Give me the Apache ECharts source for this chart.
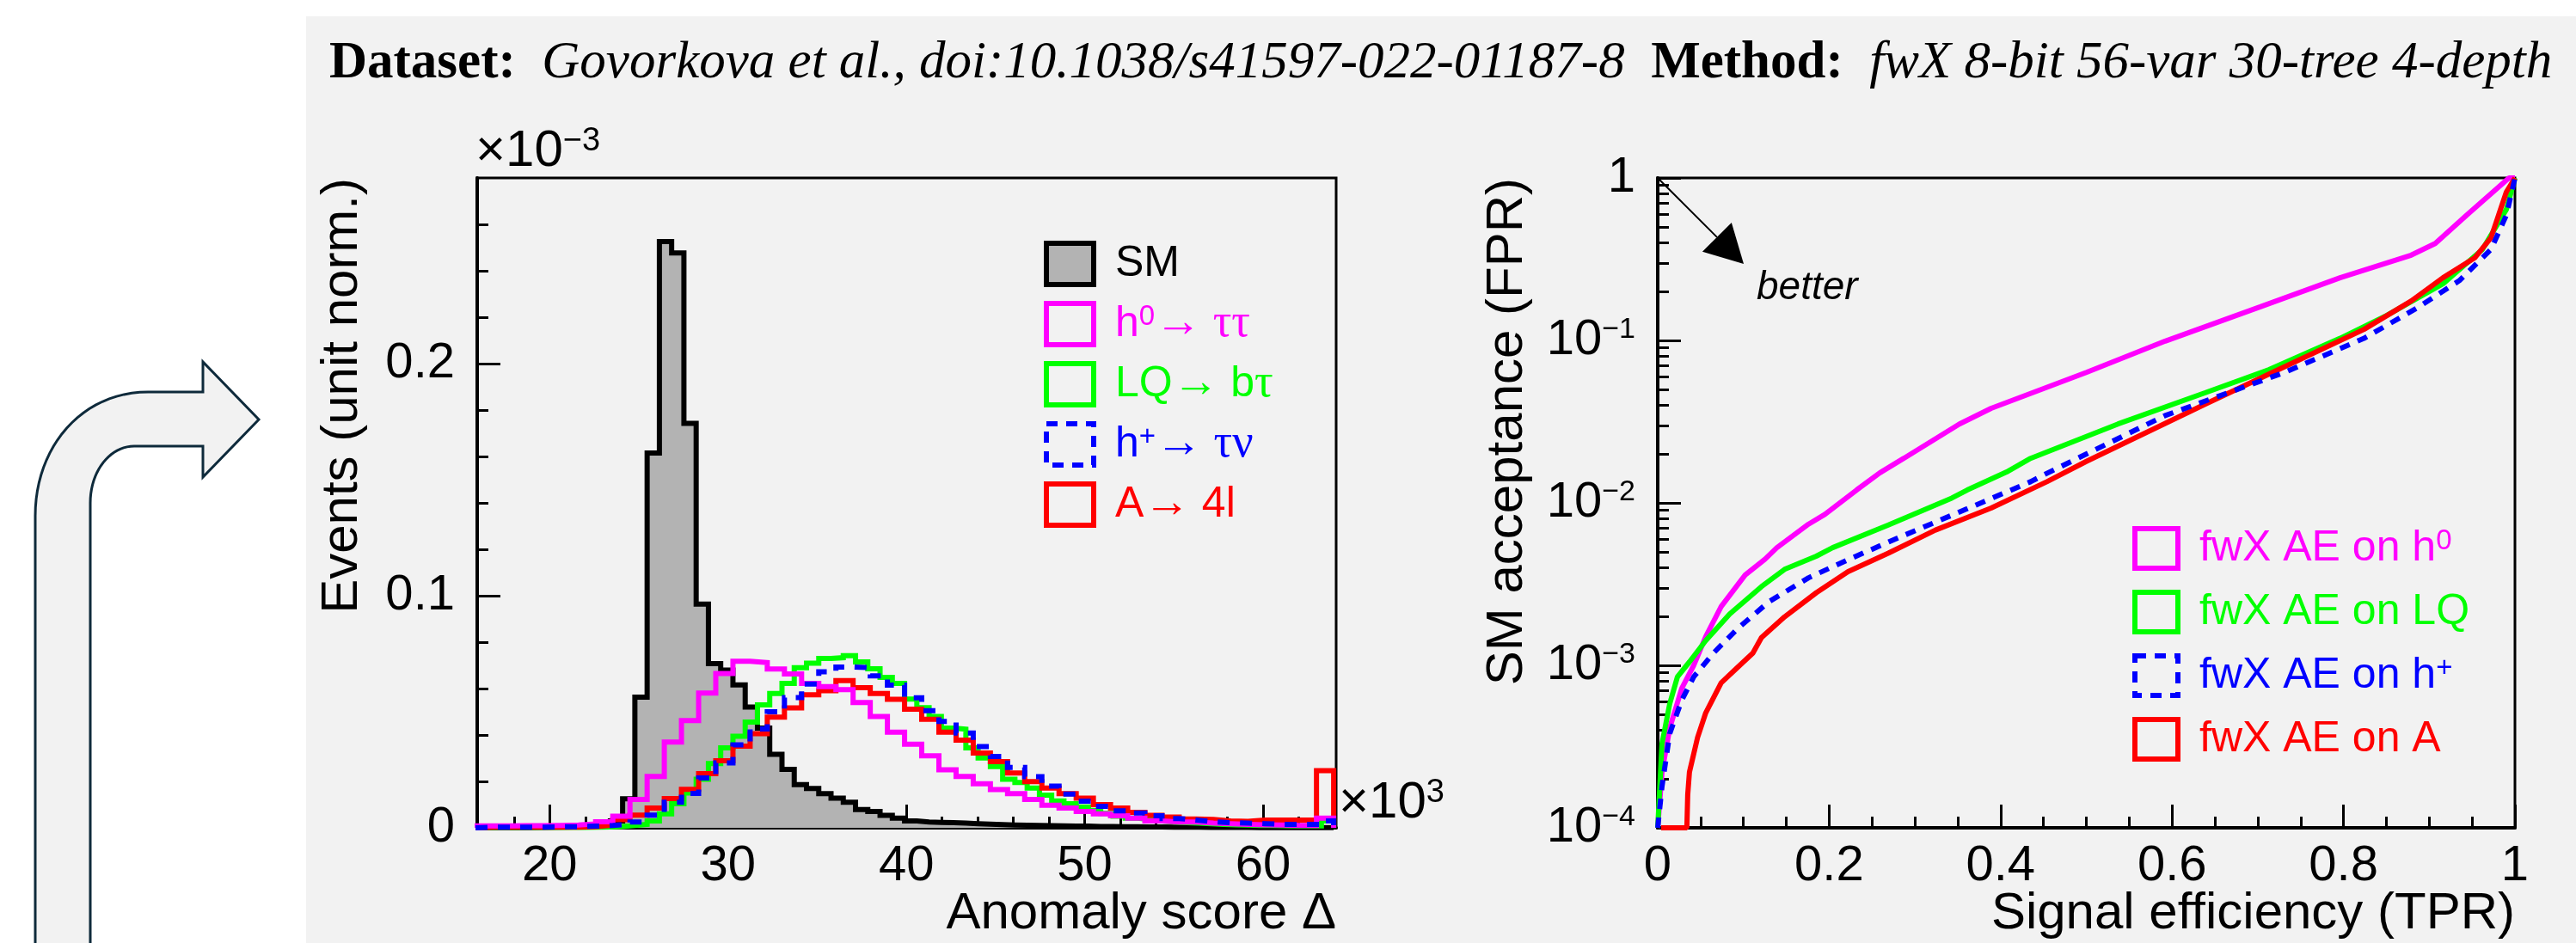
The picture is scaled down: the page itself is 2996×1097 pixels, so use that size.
<!DOCTYPE html>
<html><head><meta charset="utf-8">
<script src="https://cdn.jsdelivr.net/npm/echarts@6/dist/echarts.min.js"></script>
<style>html,body{margin:0;padding:0;background:#fff;}#c{width:2996px;height:1097px;}</style>
</head><body><div id="c"></div>
<script>
// ================= DATA =================
// Histogram range (x10^3) shared by all histograms
const histLo = 15.84, histHi = 63.96;
// SM and LQ: 70 bins
const smVals = [0,0,0,0,0.0001,0.0002,0.0003,0.0004,0.0005,0.0008,
  0.0015,0.003,0.0125,0.0563,0.1615,0.2526,0.2477,0.1743,0.0964,0.0707,
  0.068,0.0616,0.052,0.043,0.0317,0.0252,0.0186,0.0169,0.0147,0.0128,
  0.011,0.0079,0.007,0.0054,0.0042,0.003,0.0025,0.0023,0.0022,0.002,
  0.0018,0.0016,0.0014,0.0012,0.0011,0.001,0.0009,0.0008,0.0007,0.0007,
  0.0006,0.0006,0.0005,0.0005,0.0004,0.0004,0.0003,0.0003,0.0003,0.0002,
  0.0002,0.0002,0.0002,0.0001,0.0001,0.0001,0.0001,0.0001,0.0001,0.0001];
const lqVals = [0.0002,0.0002,0.0002,0.0002,0.0002,0.0002,0.0002,0.0002,0.0002,0.0003,
  0.0004,0.0006,0.001,0.0015,0.003,0.006,0.0104,0.015,0.0209,0.0277,
  0.0344,0.0394,0.0456,0.053,0.0579,0.0622,0.069,0.0709,0.073,0.0733,
  0.0742,0.0715,0.0685,0.0648,0.0622,0.0555,0.0518,0.048,0.043,0.0425,
  0.0344,0.0301,0.0264,0.0209,0.0195,0.0171,0.0141,0.0116,0.0104,0.009,
  0.0075,0.0062,0.005,0.0042,0.0036,0.003,0.0025,0.0022,0.002,0.0018,
  0.0015,0.0013,0.0012,0.001,0.001,0.0009,0.0008,0.0008,0.0008,0.003];
// h0, h+, A: 50 bins
const h0Vals = [0.0008,0.0008,0.0009,0.0009,0.001,0.0012,0.0017,0.0026,0.005,0.0122,
  0.0221,0.0369,0.0462,0.0581,0.0665,0.0718,0.0712,0.0684,0.0663,0.0622,
  0.0608,0.0595,0.054,0.048,0.0412,0.036,0.031,0.025,0.0221,0.019,
  0.0165,0.0147,0.0122,0.0097,0.0085,0.007,0.006,0.0052,0.0042,0.003,
  0.0025,0.0025,0.002,0.0018,0.0015,0.0013,0.0012,0.001,0.001,0.0042];
const hpVals = [0.0003,0.0003,0.0003,0.0003,0.0004,0.0005,0.0007,0.001,0.0015,0.0025,
  0.0055,0.011,0.0148,0.0215,0.028,0.0357,0.0426,0.05,0.0561,0.0619,
  0.0672,0.0693,0.069,0.0655,0.0615,0.056,0.0505,0.0458,0.0408,0.035,
  0.0307,0.026,0.022,0.018,0.0145,0.0115,0.0093,0.0073,0.0064,0.0052,
  0.004,0.0033,0.0026,0.0022,0.002,0.0018,0.0015,0.0015,0.0015,0.003];
const a4lVals = [0.0003,0.0003,0.0003,0.0003,0.0003,0.0003,0.0005,0.0012,0.0035,0.0055,
  0.0085,0.0126,0.0166,0.0233,0.0289,0.0352,0.0406,0.0477,0.0517,0.0573,
  0.0591,0.0634,0.0604,0.0579,0.0554,0.0511,0.0468,0.0412,0.0378,0.0322,
  0.0285,0.0236,0.0199,0.0171,0.0147,0.0128,0.01,0.0085,0.0067,0.0054,
  0.0046,0.0038,0.0036,0.003,0.0028,0.0033,0.0033,0.0033,0.0033,0.0246];

// ROC curves: [signal efficiency (TPR), SM acceptance (FPR)]
const rocH0 = [[0,1e-4],[0.005,2.2e-4],[0.014,4.1e-4],[0.028,7.2e-4],[0.042,1.0e-3],[0.056,1.5e-3],
  [0.074,2.3e-3],[0.102,3.6e-3],[0.125,4.5e-3],[0.139,5.3e-3],[0.176,7.4e-3],[0.195,8.5e-3],
  [0.232,0.012],[0.259,0.0153],[0.287,0.0188],[0.352,0.0306],[0.389,0.0382],[0.5,0.0635],
  [0.592,0.099],[0.703,0.161],[0.796,0.243],[0.879,0.335],[0.907,0.395],[0.944,0.592],[0.993,1.0],[1,1]];
const rocLQ = [[0,1e-4],[0.005,3.3e-4],[0.014,5.8e-4],[0.023,8.5e-4],[0.037,1.05e-3],[0.056,1.42e-3],
  [0.084,2.07e-3],[0.121,3.05e-3],[0.148,3.9e-3],[0.185,4.7e-3],[0.204,5.3e-3],[0.269,7.3e-3],
  [0.343,0.0107],[0.361,0.012],[0.407,0.0155],[0.435,0.0188],[0.537,0.0306],[0.639,0.0477],
  [0.713,0.066],[0.796,0.103],[0.851,0.143],[0.916,0.223],[0.962,0.363],[0.99,0.64],[1,1]];
const rocHp = [[0,1e-4],[0.005,1.8e-4],[0.014,3.8e-4],[0.028,6.1e-4],[0.042,8.5e-4],[0.065,1.19e-3],
  [0.093,1.68e-3],[0.13,2.47e-3],[0.176,3.46e-3],[0.222,4.47e-3],[0.287,6.3e-3],[0.361,9.2e-3],
  [0.435,0.0135],[0.454,0.0152],[0.592,0.0345],[0.731,0.0635],[0.824,0.103],[0.888,0.161],
  [0.935,0.233],[0.972,0.363],[0.99,0.59],[1,1]];
const rocA = [[0.004,1e-4],[0.034,1e-4],[0.035,1.6e-4],[0.037,2.2e-4],[0.0465,3.6e-4],[0.056,5.1e-4],
  [0.074,7.8e-4],[0.093,9.7e-4],[0.111,1.19e-3],[0.121,1.48e-3],[0.148,1.99e-3],[0.185,2.8e-3],
  [0.222,3.77e-3],[0.269,4.9e-3],[0.324,6.8e-3],[0.389,9.3e-3],[0.454,0.0135],[0.5,0.018],
  [0.639,0.0406],[0.731,0.0688],[0.824,0.117],[0.879,0.175],[0.916,0.243],[0.953,0.322],
  [0.972,0.428],[0.981,0.592],[0.99,0.82],[1,1]];

// Tick values
const xMajorL = [20,30,40,50,60];
const xMinorL = [18,22,24,26,28,32,34,36,38,42,44,46,48,52,54,56,58,62];
const yMajorL = [0,0.1,0.2];
const yMinorL = [0.02,0.04,0.06,0.08,0.12,0.14,0.16,0.18,0.22,0.24,0.26];
const xMajorR = [0,0.2,0.4,0.6,0.8,1];
const xMinorR = [0.05,0.1,0.15,0.25,0.3,0.35,0.45,0.5,0.55,0.65,0.7,0.75,0.85,0.9,0.95];
const yMajorR = [1e-4,1e-3,1e-2,1e-1,1];
const yMinorR = [2e-4,3e-4,4e-4,5e-4,6e-4,7e-4,8e-4,9e-4,2e-3,3e-3,4e-3,5e-3,6e-3,7e-3,8e-3,9e-3,
  2e-2,3e-2,4e-2,5e-2,6e-2,7e-2,8e-2,9e-2,0.2,0.3,0.4,0.5,0.6,0.7,0.8,0.9];

// Text
const headerText = '{b|Dataset:  }{i|Govorkova et al., doi:10.1038/s41597-022-01187-8  }{b|Method:  }{i|fwX 8-bit 56-var 30-tree 4-depth}';
const histNames = ['SM','h0→ττ','LQ→bτ','h+→τν','A→4l'];
const rocNames = ['fwX AE on h0','fwX AE on LQ','fwX AE on h+','fwX AE on A'];

// ================= STYLE =================
const SANS = '"Liberation Sans", Arial, Helvetica, sans-serif';
const SERIF = '"Liberation Serif", "Times New Roman", serif';
const MAG = '#ff00ff', GRN = '#00ff00', BLU = '#0000ff', RED = '#ff0000', BLK = '#000000';
const PANEL = '#f2f2f2', SMFILL = '#b3b3b3';

function stepData(vals, lo, hi) {
  const w = (hi - lo) / vals.length;
  const pts = [[lo, 0]];
  vals.forEach((v, i) => pts.push([lo + i * w, v]));
  pts.push([hi, vals[vals.length - 1]]);
  pts.push([hi, 0]);
  return pts;
}

function richSet(p, color, base, sup, supLH) {
  const r = {};
  r[p + 'b'] = {fontFamily: SANS, fontSize: base, lineHeight: base, color: color};
  r[p + 's'] = {fontFamily: SANS, fontSize: sup, lineHeight: supLH, verticalAlign: 'top', color: color};
  r[p + 'g'] = {fontFamily: SERIF, fontSize: base + 4, lineHeight: base, color: color};
  return r;
}
const legRich = Object.assign({sp: {width: 20}},
  richSet('k', BLK, 50, 33, 4), richSet('m', MAG, 50, 33, 4), richSet('g', GRN, 50, 33, 4),
  richSet('u', BLU, 50, 33, 4), richSet('r', RED, 50, 33, 4));
const legFmt = {
  'SM': '{sp| }{kb|SM}',
  'h0→ττ': '{sp| }{mb|h}{ms|0}{mg|→ ττ}',
  'LQ→bτ': '{sp| }{gb|LQ}{gg|→ }{gb|b}{gg|τ}',
  'h+→τν': '{sp| }{ub|h}{us|+}{ug|→ τν}',
  'A→4l': '{sp| }{rb|A}{rg|→ }{rb|4l}',
  'fwX AE on h0': '{sp| }{mb|fwX AE on h}{ms|0}',
  'fwX AE on LQ': '{sp| }{gb|fwX AE on LQ}',
  'fwX AE on h+': '{sp| }{ub|fwX AE on h}{us|+}',
  'fwX AE on A': '{sp| }{rb|fwX AE on A}'
};
const tickRich = {
  b: {fontFamily: SANS, fontSize: 58, lineHeight: 58, color: BLK},
  s: {fontFamily: SANS, fontSize: 34, lineHeight: 10, verticalAlign: 'top', color: BLK}
};

function hollow(c, dashed) {
  return {color: PANEL, borderColor: c, borderWidth: 6, borderType: dashed ? [13, 10] : 'solid'};
}

function axisMajor(grid, type, pos, min, max, vals, fmt, isY) {
  const a = {
    gridIndex: grid, type: type, position: pos, min: min, max: max,
    axisLine: {show: true, onZero: false, lineStyle: {color: BLK, width: 4}},
    axisTick: {show: true, inside: true, length: 27, lineStyle: {color: BLK, width: 3}, customValues: vals},
    axisLabel: {show: true, customValues: vals, fontFamily: SANS, fontSize: 58, color: BLK,
      margin: isY ? 26 : 16, showMinLabel: true, showMaxLabel: true, hideOverlap: false,
      formatter: fmt, rich: tickRich},
    splitLine: {show: false}, splitArea: {show: false}
  };
  if (type === 'log') a.logBase = 10;
  return a;
}
function axisMinor(grid, type, pos, min, max, vals) {
  const a = {
    gridIndex: grid, type: type, position: pos, min: min, max: max,
    axisLine: {show: false},
    axisTick: {show: true, inside: true, length: 13, lineStyle: {color: BLK, width: 3}, customValues: vals},
    axisLabel: {show: false}, splitLine: {show: false}
  };
  if (type === 'log') a.logBase = 10;
  return a;
}

const xMinL = 15.935, xMaxL = 64.1;
const fmtPlain = v => String(v);
const fmtLog = v => {
  const e = Math.round(Math.log10(v));
  return e === 0 ? '{b|1}' : '{b|10}{s|\u2212' + (-e) + '}';
};

// decorative curved arrow outline (sampled cubic Bezier curves)
function bez(p0, p1, p2, p3, n) {
  const out = [];
  for (let i = 1; i <= n; i++) {
    const t = i / n, u = 1 - t;
    out.push([u*u*u*p0[0] + 3*u*u*t*p1[0] + 3*u*t*t*p2[0] + t*t*t*p3[0],
              u*u*u*p0[1] + 3*u*u*t*p1[1] + 3*u*t*t*p2[1] + t*t*t*p3[1]]);
  }
  return out;
}
const arrowPts = [[41, 1100], [41, 600]]
  .concat(bez([41, 600], [41, 520], [95, 456], [172, 456], 24))
  .concat([[236, 456], [236, 421], [301, 488], [236, 555], [236, 519], [156, 519]])
  .concat(bez([156, 519], [128, 519], [105, 548], [105, 585], 20))
  .concat([[105, 1100]]);

const chart = echarts.init(document.getElementById('c'), null, {renderer: 'canvas', width: 2996, height: 1097});

const baseGraphic = [
  {type: 'rect', z: -100, shape: {x: 356, y: 19, width: 2640, height: 1078}, style: {fill: PANEL}, silent: true},
  {type: 'polygon', z: -50, silent: true, shape: {points: arrowPts},
    style: {fill: PANEL, stroke: '#0e2a3b', lineWidth: 3}},
  {type: 'text', x: 383, y: 74, silent: true,
    style: {text: headerText, verticalAlign: 'middle', align: 'left',
      rich: {b: {fontFamily: SERIF, fontWeight: 'bold', fontSize: 61, fill: BLK},
             i: {fontFamily: SERIF, fontStyle: 'italic', fontSize: 61, fill: BLK}}}},
  {type: 'text', x: 553, y: 176, silent: true,
    style: {text: '{b|\u00d710}{s|\u22123}', verticalAlign: 'middle', align: 'left',
      rich: {b: {fontFamily: SANS, fontSize: 60, lineHeight: 60, fill: BLK}, s: {fontFamily: SANS, fontSize: 38, lineHeight: 14, verticalAlign: 'top', fill: BLK}}}},
  {type: 'text', x: 1557, y: 934, silent: true,
    style: {text: '{b|\u00d710}{s|3}', verticalAlign: 'middle', align: 'left',
      rich: {b: {fontFamily: SANS, fontSize: 60, lineHeight: 60, fill: BLK}, s: {fontFamily: SANS, fontSize: 38, lineHeight: 14, verticalAlign: 'top', fill: BLK}}}},
  {type: 'text', x: 398, y: 207, rotation: Math.PI / 2, silent: true,
    style: {text: 'Events (unit norm.)', fontFamily: SANS, fontSize: 60, fill: BLK, align: 'right', verticalAlign: 'middle'}},
  {type: 'text', x: 1753, y: 207, rotation: Math.PI / 2, silent: true,
    style: {text: 'SM acceptance (FPR)', fontFamily: SANS, fontSize: 60, fill: BLK, align: 'right', verticalAlign: 'middle'}},
  {type: 'text', x: 1554, y: 1063, silent: true,
    style: {text: 'Anomaly score \u0394', fontFamily: SANS, fontSize: 60, fill: BLK, align: 'right', verticalAlign: 'middle'}},
  {type: 'text', x: 2925, y: 1063, silent: true,
    style: {text: 'Signal efficiency (TPR)', fontFamily: SANS, fontSize: 60, fill: BLK, align: 'right', verticalAlign: 'middle'}}
];

const option = {
  animation: false,
  backgroundColor: '#ffffff',
  textStyle: {fontFamily: SANS},
  grid: [
    {left: 555, top: 207, width: 999, height: 756, show: true, backgroundColor: 'transparent', borderColor: BLK, borderWidth: 3},
    {left: 1928, top: 207, width: 997, height: 756, show: true, backgroundColor: 'transparent', borderColor: BLK, borderWidth: 3}
  ],
  xAxis: [
    axisMajor(0, 'value', 'bottom', xMinL, xMaxL, xMajorL, fmtPlain, false),
    axisMinor(0, 'value', 'bottom', xMinL, xMaxL, xMinorL),
    axisMajor(1, 'value', 'bottom', 0, 1, xMajorR, fmtPlain, false),
    axisMinor(1, 'value', 'bottom', 0, 1, xMinorR)
  ],
  yAxis: [
    axisMajor(0, 'value', 'left', 0, 0.28, yMajorL, fmtPlain, true),
    axisMinor(0, 'value', 'left', 0, 0.28, yMinorL),
    axisMajor(1, 'log', 'left', 1e-4, 1, yMajorR, fmtLog, true),
    axisMinor(1, 'log', 'left', 1e-4, 1, yMinorR)
  ],
  legend: [
    {show: true, orient: 'vertical', left: 1209, top: 275, itemWidth: 55, itemHeight: 48, itemGap: 16,
      selectedMode: false, icon: 'rect',
      formatter: n => legFmt[n], textStyle: {rich: legRich},
      data: [
        {name: histNames[0], icon: 'rect', itemStyle: {color: SMFILL, borderColor: BLK, borderWidth: 6}},
        {name: histNames[1], icon: 'rect', itemStyle: hollow(MAG)},
        {name: histNames[2], icon: 'rect', itemStyle: hollow(GRN)},
        {name: histNames[3], icon: 'rect', itemStyle: hollow(BLU, true)},
        {name: histNames[4], icon: 'rect', itemStyle: hollow(RED)}
      ]},
    {show: true, orient: 'vertical', left: 2475, top: 607, itemWidth: 50, itemHeight: 46, itemGap: 22,
      selectedMode: false, icon: 'rect',
      formatter: n => legFmt[n], textStyle: {rich: legRich},
      data: [
        {name: rocNames[0], icon: 'rect', itemStyle: hollow(MAG)},
        {name: rocNames[1], icon: 'rect', itemStyle: hollow(GRN)},
        {name: rocNames[2], icon: 'rect', itemStyle: hollow(BLU, true)},
        {name: rocNames[3], icon: 'rect', itemStyle: hollow(RED)}
      ]}
  ],
  series: [
    {name: histNames[0], type: 'line', xAxisIndex: 0, yAxisIndex: 0, step: 'end', symbol: 'none', silent: true,
      data: stepData(smVals, histLo, histHi), lineStyle: {color: BLK, width: 6, join: 'miter'},
      itemStyle: {color: SMFILL}, areaStyle: {color: SMFILL, opacity: 1}, z: 2},
    {name: histNames[2], type: 'line', xAxisIndex: 0, yAxisIndex: 0, step: 'end', symbol: 'none', silent: true,
      data: stepData(lqVals, histLo, histHi), lineStyle: {color: GRN, width: 6, join: 'miter'}, itemStyle: {color: GRN}, z: 3},
    {name: histNames[4], type: 'line', xAxisIndex: 0, yAxisIndex: 0, step: 'end', symbol: 'none', silent: true,
      data: stepData(a4lVals, histLo, histHi), lineStyle: {color: RED, width: 6, join: 'miter'}, itemStyle: {color: RED}, z: 4},
    {name: histNames[1], type: 'line', xAxisIndex: 0, yAxisIndex: 0, step: 'end', symbol: 'none', silent: true,
      data: stepData(h0Vals, histLo, histHi), lineStyle: {color: MAG, width: 6, join: 'miter'}, itemStyle: {color: MAG}, z: 5},
    {name: histNames[3], type: 'line', xAxisIndex: 0, yAxisIndex: 0, step: 'end', symbol: 'none', silent: true,
      data: stepData(hpVals, histLo, histHi), lineStyle: {color: BLU, width: 6, type: [14, 12], join: 'miter'}, itemStyle: {color: BLU}, z: 6},

    {name: rocNames[0], type: 'line', xAxisIndex: 2, yAxisIndex: 2, symbol: 'none', silent: true,
      data: rocH0, lineStyle: {color: MAG, width: 6}, itemStyle: {color: MAG}, z: 3},
    {name: rocNames[1], type: 'line', xAxisIndex: 2, yAxisIndex: 2, symbol: 'none', silent: true,
      data: rocLQ, lineStyle: {color: GRN, width: 6}, itemStyle: {color: GRN}, z: 4},
    {name: rocNames[3], type: 'line', xAxisIndex: 2, yAxisIndex: 2, symbol: 'none', silent: true,
      data: rocA, lineStyle: {color: RED, width: 6}, itemStyle: {color: RED}, z: 5},
    {name: rocNames[2], type: 'line', xAxisIndex: 2, yAxisIndex: 2, symbol: 'none', silent: true,
      data: rocHp, lineStyle: {color: BLU, width: 6, type: [12, 10]}, itemStyle: {color: BLU}, z: 6}
  ],
  graphic: baseGraphic
};
chart.setOption(option);

// "better" annotation anchored at the ROC frame corner (TPR=0, FPR=1)
const c0 = chart.convertToPixel({xAxisIndex: 2, yAxisIndex: 2}, [0, 1]);
const tip = [c0[0] + 100, c0[1] + 100];
const dx = Math.SQRT1_2, dy = Math.SQRT1_2;
const hl = 44, hw = 24;
const bx = tip[0] - dx * hl, by = tip[1] - dy * hl;
chart.setOption({graphic: baseGraphic.concat([
  {type: 'line', silent: true, shape: {x1: c0[0], y1: c0[1], x2: bx, y2: by}, style: {stroke: BLK, lineWidth: 2}},
  {type: 'polygon', silent: true, shape: {points: [tip, [bx - dy * hw, by + dx * hw], [bx + dy * hw, by - dx * hw]]}, style: {fill: BLK}},
  {type: 'text', x: c0[0] + 115, y: c0[1] + 128, silent: true,
    style: {text: 'better', fontFamily: SANS, fontStyle: 'italic', fontSize: 46, fill: BLK, align: 'left', verticalAlign: 'middle'}}
])});
</script>
</body></html>
